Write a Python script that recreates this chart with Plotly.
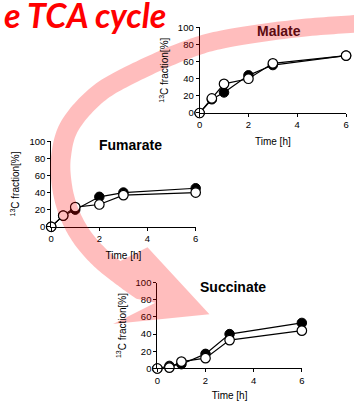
import numpy as np
import plotly.graph_objects as go

# ---------------- data ----------------
time_h = [0, 0.5, 1, 2, 3, 6]

malate_filled = [0, 16, 24, 44, 56, 67]
malate_open = [0, 17, 34, 40, 58, 67]

fumarate_filled = [0, 13, 20, 35, 40, 45]
fumarate_open = [0, 13, 23, 26, 37, 40]

succinate_filled = [0, 3, 5, 17, 40, 53]
succinate_open = [0, 1, 8, 12, 33, 44]

x_ticks = [0, 2, 4, 6]
y_ticks = [0, 20, 40, 60, 80, 100]
panel_titles = ["Malate", "Fumarate", "Succinate"]
header_text = "e TCA cycle"

# ---------------- layout helpers ----------------
W, H = 354, 401


def px(x, y):
    return x / W, 1 - y / H


FONT = "Liberation Sans, Arial, sans-serif"

fig = go.Figure()

panels = [
    # (axis suffix, filled, open, x0px, x6px, y0px, y100px)
    ("", malate_filled, malate_open, 200, 349, 110, 22),
    ("2", fumarate_filled, fumarate_open, 49, 196, 227, 139),
    ("3", succinate_filled, succinate_open, 157, 304, 372.7, 284.3),
]

for suf, filled, opn, x0, x1, y0, y1 in panels:
    xa = "x" + suf
    ya = "y" + suf
    fig.add_trace(go.Scatter(
        x=time_h, y=filled, xaxis=xa, yaxis=ya, mode="lines+markers",
        line=dict(color="black", width=1.2),
        marker=dict(size=9.5, color="black", line=dict(color="black", width=1)),
        cliponaxis=False, showlegend=False))
    fig.add_trace(go.Scatter(
        x=time_h, y=opn, xaxis=xa, yaxis=ya, mode="lines+markers",
        line=dict(color="black", width=1.2),
        marker=dict(size=9.5, color="white", line=dict(color="black", width=1.2)),
        cliponaxis=False, showlegend=False))
    common = dict(showline=True, linecolor="black", linewidth=1, ticks="outside",
                  ticklen=3, tickwidth=1, tickcolor="black", showgrid=False,
                  zeroline=False, tickfont=dict(family=FONT, size=9.5, color="black"),
                  fixedrange=True)
    fig.layout["xaxis" + suf] = dict(
        domain=[x0 / W, x1 / W], anchor=ya, range=[0, 6], tickvals=x_ticks,
        title=dict(text="Time [h]", font=dict(family=FONT, size=10, color="black"), standoff=8),
        **common)
    fig.layout["yaxis" + suf] = dict(
        domain=[1 - y0 / H, 1 - y1 / H], anchor=xa, range=[0, 100], tickvals=y_ticks,
        title=dict(text="<sup>13</sup>C fraction[%]", font=dict(family=FONT, size=10, color="black"), standoff=7),
        **common)

# panel titles
title_pos = [(280.5, 26, "#5c0a10"), (129.5, 143.3, "black"), (233.8, 289.3, "black")]
for t, (tx, ty, col) in zip(panel_titles, title_pos):
    ax_, ay_ = px(tx, ty)
    fig.add_annotation(x=ax_, y=ay_, xref="paper", yref="paper", text="<b>%s</b>" % t,
                       showarrow=False, xanchor="center", yanchor="middle",
                       font=dict(family=FONT, size=14, color=col))

# header text (cut off at the left and top)
hx, hy = px(-1, 9)
fig.add_annotation(x=hx, y=hy, xref="paper", yref="paper",
                   text="<b><i>%s</i></b>" % header_text, showarrow=False,
                   xanchor="left", yanchor="middle",
                   font=dict(family="Lato, Open Sans, sans-serif", size=34, color="#ff0000"))

# ---------------- curved arrow (decoration) ----------------
center = [(362, 18), (300, 23), (230, 33), (187, 45), (133, 69), (96, 91), (68, 123),
          (59, 155), (60, 185), (67, 212), (80, 237), (100, 260), (125, 280), (142, 292)]


def catmull(pts, n=14):
    pts = np.asarray(pts, float)
    ext = np.vstack([2 * pts[0] - pts[1], pts, 2 * pts[-1] - pts[-2]])
    out = []
    for i in range(1, len(ext) - 2):
        p0, p1, p2, p3 = ext[i - 1], ext[i], ext[i + 1], ext[i + 2]
        for t in np.linspace(0, 1, n, endpoint=False):
            t2, t3 = t * t, t * t * t
            out.append(0.5 * ((2 * p1) + (-p0 + p2) * t + (2 * p0 - 5 * p1 + 4 * p2 - p3) * t2
                              + (-p0 + 3 * p1 - 3 * p2 + p3) * t3))
    out.append(pts[-1])
    return np.array(out)


c = catmull(center)
d = np.gradient(c, axis=0)
d /= np.linalg.norm(d, axis=1)[:, None]
nrm = np.column_stack([-d[:, 1], d[:, 0]])  # outer (convex) side
w = np.linspace(9, 11, len(c))[:, None]
outer = c + w * nrm
inner = c - w * nrm
cut = np.where((c[:, 1] > 200) & (c[:, 1] > 272))[0]
cut_idx = cut[0] if len(cut) else len(c)
inner_cut = inner[:cut_idx]

poly = list(map(tuple, outer))
poly += [(155, 305), (112, 327), (210, 317), (147, 248)]
poly += list(map(tuple, inner_cut[::-1]))

path = ""
for i, (x, y) in enumerate(poly):
    u, v = px(x, y)
    path += ("M" if i == 0 else "L") + "%.5f,%.5f " % (u, v)
path += "Z"

fig.add_shape(type="path", path=path, xref="paper", yref="paper",
              fillcolor="rgba(255,0,0,0.26)", line=dict(width=0), layer="above")

fig.update_layout(
    width=W, height=H, margin=dict(l=0, r=0, t=0, b=0),
    paper_bgcolor="white", plot_bgcolor="rgba(0,0,0,0)",
    showlegend=False,
)

fig.write_html("out.html", config={"displayModeBar": False})
